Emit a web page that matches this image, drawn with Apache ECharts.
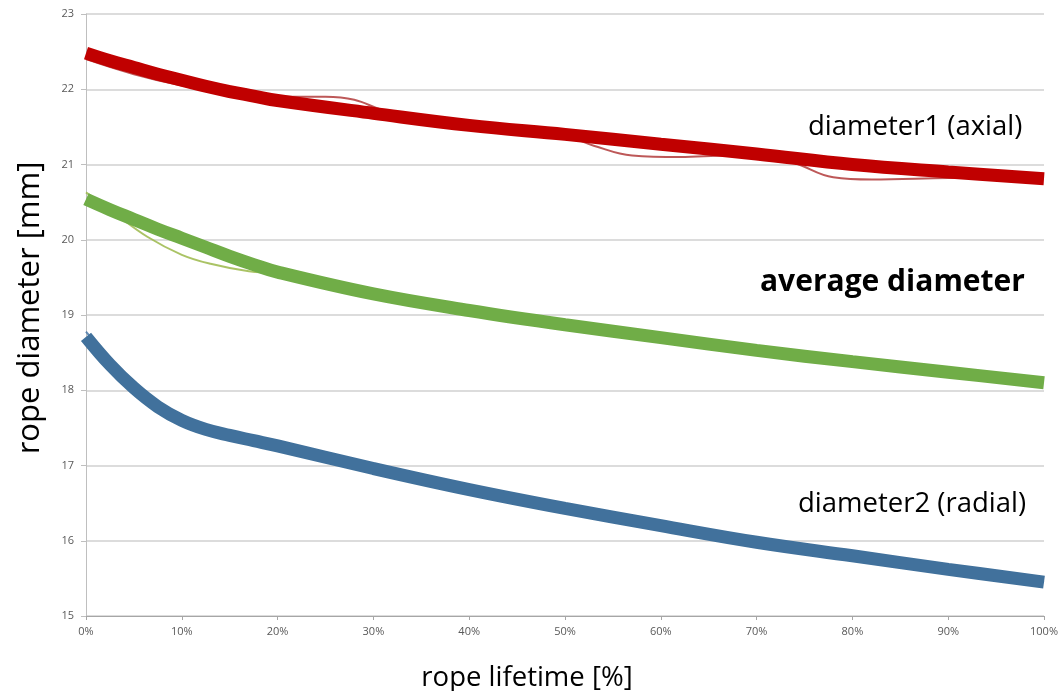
<!DOCTYPE html>
<html>
<head>
<meta charset="utf-8">
<script src="https://cdn.jsdelivr.net/npm/echarts@6/dist/echarts.min.js"></script>
<style>
html,body{margin:0;padding:0;background:#fff;}
#c{width:1061px;height:691px;}
</style>
</head>
<body>
<div id="c"></div>
<script>
// x = rope lifetime [%], y = rope diameter [mm]
const xTicks = [0, 10, 20, 30, 40, 50, 60, 70, 80, 90, 100];
const yTicks = [15, 16, 17, 18, 19, 20, 21, 22, 23];

// measured (thin) curves
const axialRawX  = [0, 5, 10, 15, 20, 25, 28, 31, 35, 40, 45, 50, 53, 57, 62, 67, 71, 74, 78, 82, 90, 100];
const axialRawY  = [22.4, 22.2, 22.05, 21.95, 21.9, 21.9, 21.86, 21.72, 21.6, 21.5, 21.45, 21.38, 21.25, 21.12, 21.1, 21.12, 21.12, 21.02, 20.83, 20.8, 20.82, 20.83];
const avgRawX    = [0, 3, 6.4, 10, 13, 17, 20, 25, 30];
const avgRawY    = [20.63, 20.35, 20.04, 19.8, 19.68, 19.58, 19.55, 19.4, 19.28];
const radialRawX = [0, 2.5, 5, 7.5, 10, 12.5, 15, 17.5, 20, 30, 40, 45, 50, 60, 65, 70, 80, 85, 90, 100];
const radialRawY = [18.78, 18.4, 18.06, 17.8, 17.62, 17.5, 17.42, 17.34, 17.27, 16.96, 16.7, 16.57, 16.44, 16.21, 16.1, 15.99, 15.8, 15.68, 15.61, 15.45];

// fitted (thick) curves
const fitX       = [0, 2.5, 5, 7.5, 10, 12.5, 15, 17.5, 20, 30, 40, 50, 60, 70, 80, 90, 100];
const axialFit   = [22.48, 22.38, 22.29, 22.2, 22.12, 22.04, 21.97, 21.91, 21.85, 21.68, 21.52, 21.4, 21.27, 21.14, 21.0, 20.9, 20.81];
const avgFit     = [20.54, 20.4, 20.27, 20.14, 20.02, 19.9, 19.78, 19.67, 19.57, 19.28, 19.06, 18.87, 18.7, 18.53, 18.38, 18.24, 18.1];
const radialFit  = [18.71, 18.34, 18.03, 17.78, 17.6, 17.48, 17.4, 17.33, 17.26, 16.96, 16.68, 16.43, 16.2, 15.98, 15.8, 15.62, 15.45];

const labels = [
  {text: 'diameter1 (axial)', x: 808, y: 127, bold: false},
  {text: 'average diameter', x: 760, y: 282, bold: true},
  {text: 'diameter2 (radial)', x: 798, y: 504, bold: false}
];

const pairs = (xs, ys) => xs.map((x, i) => [x, ys[i]]);
const FONT = 'Open Sans';

const chart = echarts.init(document.getElementById('c'), null, {renderer: 'canvas'});

function thin(data, color) {
  return {type: 'line', data, smooth: 0.4, symbol: 'none', z: 2,
    lineStyle: {width: 2, color, opacity: 0.85}};
}
function thick(data, color) {
  return {type: 'line', data, smooth: 0.4, symbol: 'none', z: 3,
    lineStyle: {width: 13, color, cap: 'butt'}};
}

chart.setOption({
  animation: false,
  backgroundColor: '#ffffff',
  grid: {left: 86, right: 15, top: 14, bottom: 75, containLabel: false},
  xAxis: {
    type: 'value', min: 0, max: 100, interval: 10,
    axisLine: {show: true, lineStyle: {color: '#a6a6a6', width: 1}},
    axisTick: {show: true, length: 4, lineStyle: {color: '#a6a6a6'}},
    splitLine: {show: false},
    axisLabel: {formatter: '{value}%', color: '#595959', fontSize: 11, fontFamily: FONT, margin: 10}
  },
  yAxis: {
    type: 'value', min: 15, max: 23, interval: 1,
    axisLine: {show: true, lineStyle: {color: '#bfbfbf', width: 1}},
    axisTick: {show: true, length: 5, lineStyle: {color: '#bfbfbf'}},
    splitLine: {show: true, lineStyle: {color: '#d0d0d0', width: 1.5}},
    axisLabel: {color: '#595959', fontSize: 11, fontFamily: FONT, margin: 12}
  },
  series: [
    thin(pairs(axialRawX, axialRawY), '#b23b3b'),
    thin(pairs(avgRawX, avgRawY), '#9bb84a'),
    thin(pairs(radialRawX, radialRawY), '#4a78a8'),
    thick(pairs(fitX, axialFit), '#c00000'),
    thick(pairs(fitX, avgFit), '#70ad47'),
    thick(pairs(fitX, radialFit), '#41719c')
  ],
  graphic: [
    ...labels.map(l => ({
      type: 'text', x: l.x, y: l.y, z: 10,
      style: {text: l.text, fill: '#000', fontSize: l.bold ? 30 : 27.5,
        fontWeight: l.bold ? 'bold' : 'normal', fontFamily: FONT, verticalAlign: 'middle', align: 'left'}
    })),
    {type: 'text', x: 527, y: 678, z: 10,
      style: {text: 'rope lifetime [%]', fill: '#000', fontSize: 27.5, fontFamily: FONT, align: 'center', verticalAlign: 'middle'}},
    {type: 'text', x: 30, y: 308, rotation: Math.PI / 2, z: 10,
      style: {text: 'rope diameter [mm]', fill: '#000', fontSize: 31, fontFamily: FONT, align: 'center', verticalAlign: 'middle'}}
  ]
});
</script>
</body>
</html>
